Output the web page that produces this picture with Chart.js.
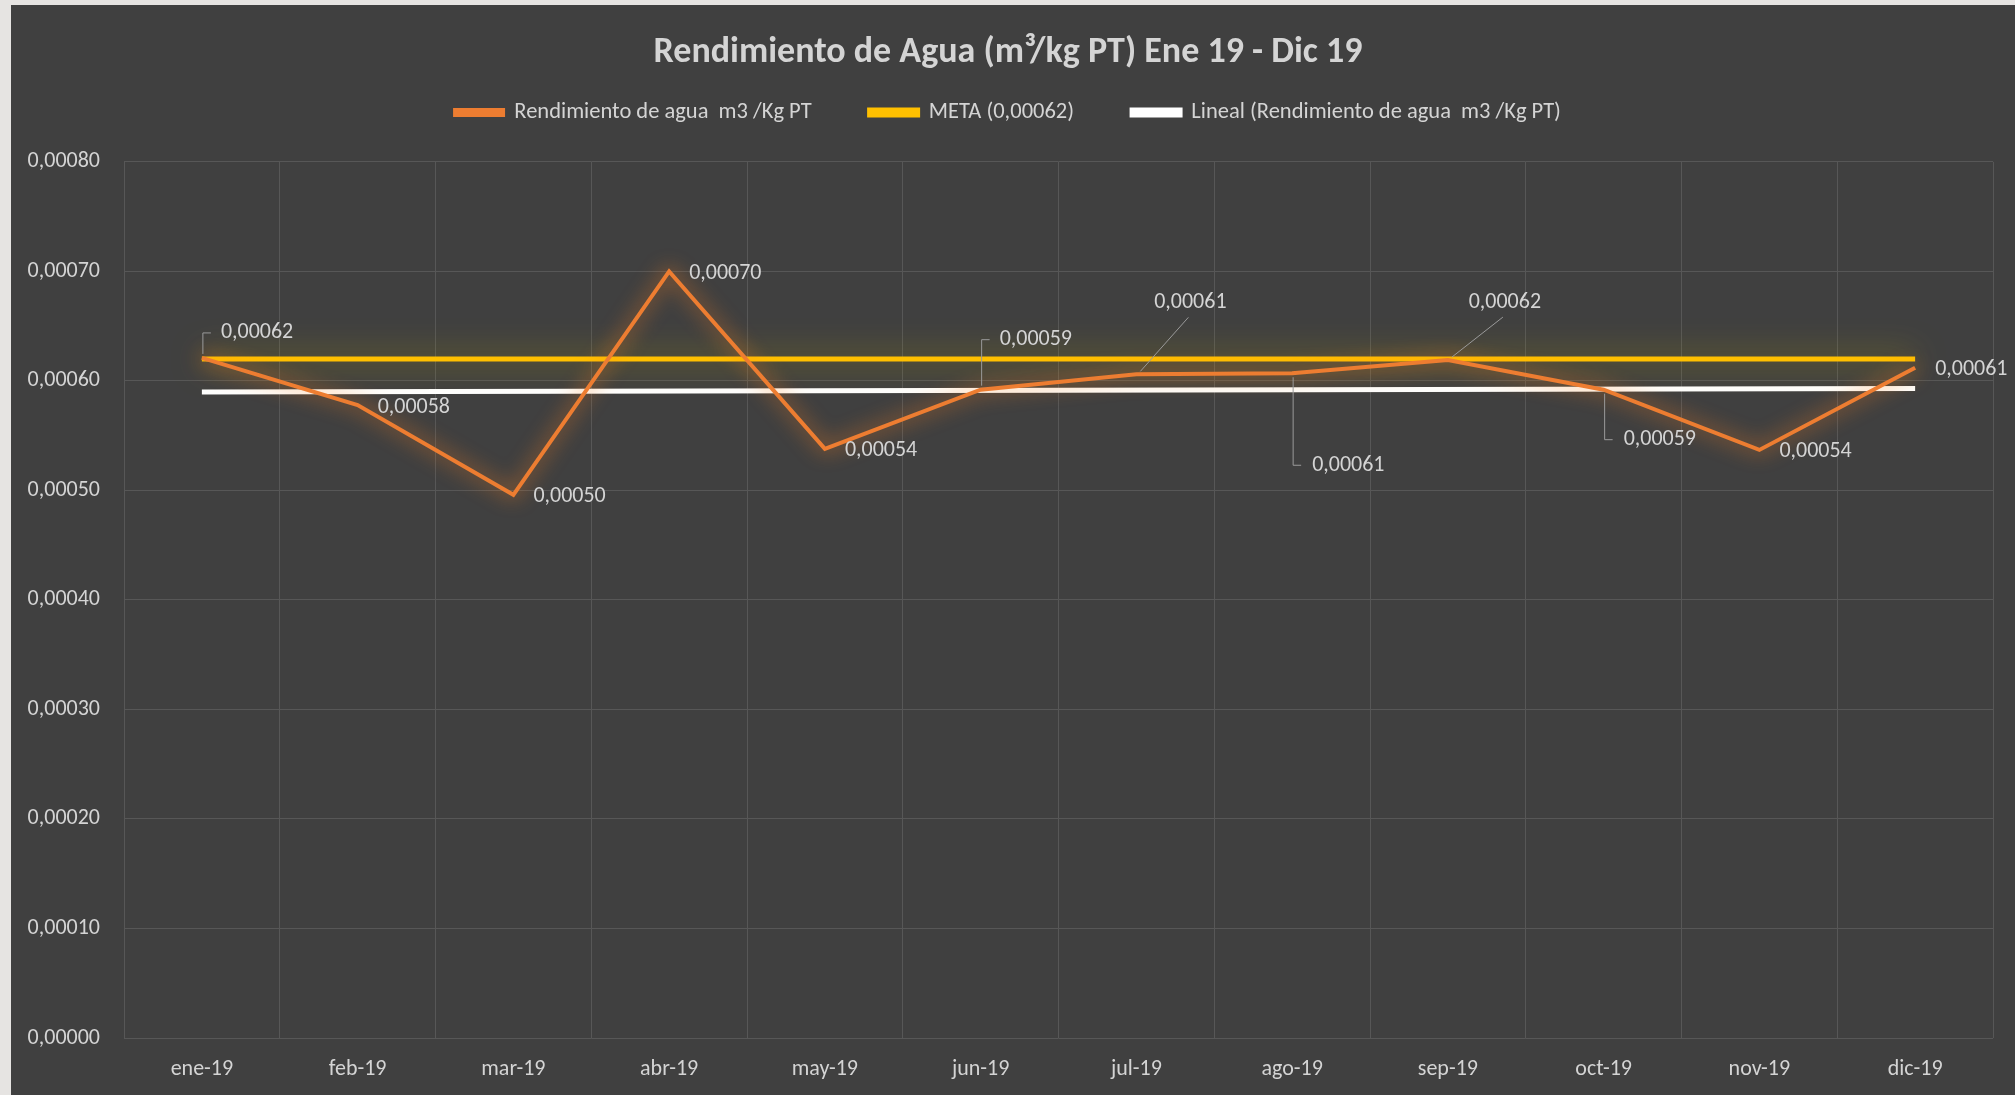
<!DOCTYPE html>
<html>
<head>
<meta charset="utf-8">
<script src="https://cdn.jsdelivr.net/npm/chart.js@4.4.0/dist/chart.umd.min.js"></script>
<style>
  html, body { margin: 0; padding: 0; background: #e6e4e2; }
  #wrap { position: absolute; left: 11px; top: 5px; width: 2004px; height: 1090px; background: #404040; }
</style>
</head>
<body>
<div id="wrap"><canvas id="chart"></canvas></div>
<script>
const months = ['ene-19', 'feb-19', 'mar-19', 'abr-19', 'may-19', 'jun-19',
                'jul-19', 'ago-19', 'sep-19', 'oct-19', 'nov-19', 'dic-19'];
const rendimiento = [0.000621, 0.000578, 0.000496, 0.000700, 0.000538, 0.000592,
                     0.000606, 0.000607, 0.000619, 0.000592, 0.000537, 0.000612];
const meta = [0.00062, 0.00062, 0.00062, 0.00062, 0.00062, 0.00062,
              0.00062, 0.00062, 0.00062, 0.00062, 0.00062, 0.00062];
// trend line: only the two ends, straight between them
const lineal = [0.000590, null, null, null, null, null,
                null, null, null, null, null, 0.000593];
const yTicks = [0, 0.0001, 0.0002, 0.0003, 0.0004, 0.0005, 0.0006, 0.0007, 0.0008];

const FONT = "Carlito, 'Liberation Sans Narrow', 'Open Sans', sans-serif";
const TEXT = '#d4d4d4';

const fmt = v => v.toFixed(5).replace('.', ',');

// where each value label goes relative to its point
const labelPlacement = [
    { kind: 'up', dy: -25 },
    { kind: 'right' },
    { kind: 'right' },
    { kind: 'right' },
    { kind: 'right' },
    { kind: 'up', dy: -50 },
    { kind: 'diag', dx: 54, dy: -72 },
    { kind: 'down', dy: 92 },
    { kind: 'diag', dx: 57, dy: -58 },
    { kind: 'down', dy: 50 },
    { kind: 'right' },
    { kind: 'right' }
];

const glowPlugin = {
    id: 'glow',
    beforeDatasetDraw(chart, args) {
        const ctx = chart.ctx;
        ctx.save();
        if (args.index === 0) {
            ctx.shadowColor = 'rgba(255,130,30,0.95)';
            ctx.shadowBlur = 20;
        } else if (args.index === 1) {
            ctx.shadowColor = 'rgba(190,170,0,0.85)';
            ctx.shadowBlur = 32;
        }
    },
    afterDatasetDraw(chart) {
        chart.ctx.restore();
    }
};

const labelsPlugin = {
    id: 'valueLabels',
    afterDatasetsDraw(chart) {
        const ctx = chart.ctx;
        const meta0 = chart.getDatasetMeta(0);
        ctx.save();
        ctx.font = '22px ' + FONT;
        ctx.fillStyle = TEXT;
        ctx.strokeStyle = '#9a9a9a';
        ctx.lineWidth = 1;
        ctx.textBaseline = 'middle';
        meta0.data.forEach((pt, i) => {
            const p = labelPlacement[i];
            const x = pt.x, y = pt.y;
            const txt = fmt(rendimiento[i]);
            if (p.kind === 'right') {
                ctx.textAlign = 'left';
                ctx.fillText(txt, x + 20, y + 2);
            } else if (p.kind === 'up') {
                ctx.beginPath();
                ctx.moveTo(x + 1, y - 4);
                ctx.lineTo(x + 1, y + p.dy);
                ctx.lineTo(x + 9, y + p.dy);
                ctx.stroke();
                ctx.textAlign = 'left';
                ctx.fillText(txt, x + 19, y + p.dy);
            } else if (p.kind === 'down') {
                ctx.beginPath();
                ctx.moveTo(x + 1, y + 4);
                ctx.lineTo(x + 1, y + p.dy);
                ctx.lineTo(x + 9, y + p.dy);
                ctx.stroke();
                ctx.textAlign = 'left';
                ctx.fillText(txt, x + 20, y + p.dy);
            } else if (p.kind === 'diag') {
                ctx.beginPath();
                ctx.moveTo(x + 4, y - 3);
                ctx.lineTo(x + p.dx - 2, y + p.dy + 15);
                ctx.stroke();
                ctx.textAlign = 'center';
                ctx.fillText(txt, x + p.dx, y + p.dy);
            }
        });
        ctx.restore();
    }
};

const ctx = document.getElementById('chart').getContext('2d');

new Chart(ctx, {
    type: 'line',
    data: {
        labels: months,
        datasets: [
            {
                label: 'Rendimiento de agua  m3 /Kg PT',
                data: rendimiento,
                borderColor: '#ED7D31',
                backgroundColor: '#ED7D31',
                borderWidth: 4,
                pointRadius: 0,
                tension: 0
            },
            {
                label: 'META (0,00062)',
                data: meta,
                borderColor: '#FFC000',
                backgroundColor: '#FFC000',
                borderWidth: 5,
                pointRadius: 0
            },
            {
                label: 'Lineal (Rendimiento de agua  m3 /Kg PT)',
                data: lineal,
                borderColor: '#FFFFFF',
                backgroundColor: '#FFFFFF',
                borderWidth: 5,
                pointRadius: 0,
                spanGaps: true
            }
        ]
    },
    options: {
        responsive: true,
        maintainAspectRatio: false,
        animation: false,
        layout: { padding: { left: 12, right: 22, top: 8, bottom: 6 } },
        plugins: {
            title: {
                display: true,
                text: 'Rendimiento de Agua (m³/kg PT) Ene 19 - Dic 19',
                color: TEXT,
                font: { family: FONT, size: 36, weight: 'bold' },
                padding: { top: 18, bottom: -31 }
            },
            // empty subtitle used as a spacer between legend and plot
            subtitle: {
                display: true,
                text: '',
                weight: 500,
                font: { size: 1 },
                padding: { top: 0, bottom: 27 }
            },
            legend: {
                position: 'top',
                labels: {
                    color: TEXT,
                    font: { family: FONT, size: 22.5 },
                    boxWidth: 48,
                    boxHeight: 5,
                    padding: 58
                }
            },
            tooltip: { enabled: false }
        },
        scales: {
            x: {
                offset: true,
                afterFit(scale) { scale.height = 51; },
                grid: { color: '#575757', offset: true, drawTicks: false },
                border: { display: false },
                ticks: {
                    color: TEXT,
                    font: { family: FONT, size: 22 },
                    padding: 18,
                    maxRotation: 0
                }
            },
            y: {
                min: 0,
                max: 0.0008,
                afterBuildTicks(scale) {
                    scale.ticks = yTicks.map(v => ({ value: v }));
                },
                afterFit(scale) { scale.width = 101; },
                grid: { color: '#575757', drawTicks: false },
                border: { display: false },
                ticks: {
                    color: TEXT,
                    font: { family: FONT, size: 22 },
                    padding: 24,
                    callback: v => fmt(v)
                }
            }
        }
    },
    plugins: [glowPlugin, labelsPlugin]
});
</script>
</body>
</html>
